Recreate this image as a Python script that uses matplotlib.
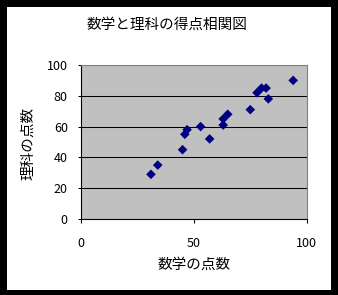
import matplotlib
matplotlib.use("Agg")
import matplotlib.pyplot as plt
from matplotlib.patches import Rectangle

plt.rcParams['font.family'] = ['Noto Sans CJK JP', 'DejaVu Sans']

title = "数学と理科の得点相関図"
xlabel = "数学の点数"
ylabel = "理科の点数"
math_scores = [31, 34, 45, 46, 47, 53, 57, 63, 63, 65, 75, 78, 80, 82, 83, 94]
science_scores = [29, 35, 45, 55, 58, 60, 52, 61, 65, 68, 71, 82, 85, 85, 78, 90]
xticks = [0, 50, 100]
yticks = [0, 20, 40, 60, 80, 100]

W, H = 338, 295
fig = plt.figure(figsize=(W / 100, H / 100), dpi=100, facecolor='black')
fig.patches.append(Rectangle((7 / W, 5 / H), (331 - 7) / W, (288 - 5) / H,
                             transform=fig.transFigure, facecolor='white',
                             edgecolor='none', zorder=-10))

ax = fig.add_axes([81 / W, (H - 219) / H, (306.7 - 81) / W, (219 - 65) / H])
ax.set_facecolor('#C0C0C0')
ax.scatter(math_scores, science_scores, marker='D', s=24, color='#000080',
           edgecolors='none', zorder=3, clip_on=False)
ax.set_xlim(0, 100)
ax.set_ylim(0, 100)
ax.set_xticks(xticks)
ax.set_yticks(yticks)
ax.set_xticklabels([str(v) for v in xticks])
ax.set_yticklabels([str(v) for v in yticks])
ax.yaxis.grid(True, color='black', linewidth=0.75)
ax.set_axisbelow(True)
ax.tick_params(axis='x', direction='out', length=3, width=0.75, pad=10, labelsize=9, colors='black')
ax.tick_params(axis='y', direction='out', length=2.5, width=0.75, pad=7, labelsize=9, colors='black')
for s in ['left', 'bottom']:
    ax.spines[s].set_color('black')
    ax.spines[s].set_linewidth(0.8)
for s in ['top', 'right']:
    ax.spines[s].set_color('#808080')
    ax.spines[s].set_linewidth(0.8)

fig.text(167 / W, (H - 25) / H, title, ha='center', va='center', fontsize=10.5)
fig.text(194 / W, (H - 265) / H, xlabel, ha='center', va='center', fontsize=10.5)
fig.text(28 / W, (H - 143) / H, ylabel, ha='center', va='center', fontsize=10.5, rotation=90)

fig.savefig('out.png', dpi=100, facecolor='black')
